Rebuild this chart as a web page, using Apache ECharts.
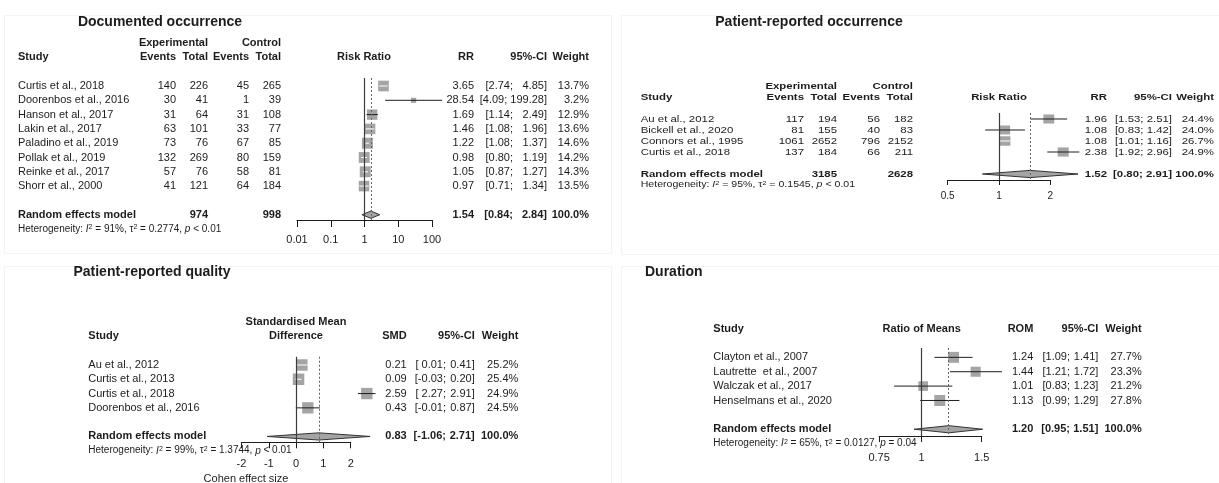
<!DOCTYPE html>
<html>
<head>
<meta charset="utf-8">
<script src="https://cdn.jsdelivr.net/npm/echarts@6/dist/echarts.min.js"></script>
<style>
  html, body { margin: 0; padding: 0; background: #fff; }
  #chart { width: 1219px; height: 483px; }
</style>
</head>
<body>
<div id="chart"></div>
<script>
const FONT = '"Liberation Sans", Arial, Helvetica, sans-serif';
const INK = '#1c1c1c';
const BOX = '#a4a4a4';

// Documented occurrence (risk ratio)
const docStudies = ['Curtis et al., 2018', 'Doorenbos et al., 2016', 'Hanson et al., 2017', 'Lakin et al., 2017',
  'Paladino et al., 2019', 'Pollak et al., 2019', 'Reinke et al., 2017', 'Shorr et al., 2000'];
const docExpEvents = [140, 30, 31, 63, 73, 132, 57, 41];
const docExpTotal = [226, 41, 64, 101, 76, 269, 76, 121];
const docCtrlEvents = [45, 1, 31, 33, 67, 80, 58, 64];
const docCtrlTotal = [265, 39, 108, 77, 85, 159, 81, 184];
const docRR = [3.65, 28.54, 1.69, 1.46, 1.22, 0.98, 1.05, 0.97];
const docLower = [2.74, 4.09, 1.14, 1.08, 1.08, 0.80, 0.87, 0.71];
const docUpper = [4.85, 199.28, 2.49, 1.96, 1.37, 1.19, 1.27, 1.34];
const docWeight = [13.7, 3.2, 12.9, 13.6, 14.6, 14.2, 14.3, 13.5];
const docPooled = [1.54, 0.84, 2.84];
const docTotals = [974, 998];
const docHet = ['91%', '0.2774', '< 0.01'];
const docTicks = [0.01, 0.1, 1, 10, 100];

// Patient-reported occurrence (risk ratio)
const patStudies = ['Au et al., 2012', 'Bickell et al., 2020', 'Connors et al., 1995', 'Curtis et al., 2018'];
const patExpEvents = [117, 81, 1061, 137];
const patExpTotal = [194, 155, 2652, 184];
const patCtrlEvents = [56, 40, 796, 66];
const patCtrlTotal = [182, 83, 2152, 211];
const patRR = [1.96, 1.08, 1.08, 2.38];
const patLower = [1.53, 0.83, 1.01, 1.92];
const patUpper = [2.51, 1.42, 1.16, 2.96];
const patWeight = [24.4, 24.0, 26.7, 24.9];
const patPooled = [1.52, 0.80, 2.91];
const patTotals = [3185, 2628];
const patHet = ['95%', '0.1545', '< 0.01'];
const patTicks = [0.5, 1, 2];

// Patient-reported quality (standardised mean difference)
const qualStudies = ['Au et al., 2012', 'Curtis et al., 2013', 'Curtis et al., 2018', 'Doorenbos et al., 2016'];
const qualSMD = [0.21, 0.09, 2.59, 0.43];
const qualLower = [0.01, -0.03, 2.27, -0.01];
const qualUpper = [0.41, 0.20, 2.91, 0.87];
const qualWeight = [25.2, 25.4, 24.9, 24.5];
const qualPooled = [0.83, -1.06, 2.71];
const qualHet = ['99%', '1.3744', '< 0.01'];
const qualTicks = [-2, -1, 0, 1, 2];

// Duration (ratio of means)
const durStudies = ['Clayton et al., 2007', 'Lautrette  et al., 2007', 'Walczak et al., 2017', 'Henselmans et al., 2020'];
const durROM = [1.24, 1.44, 1.01, 1.13];
const durLower = [1.09, 1.21, 0.83, 0.99];
const durUpper = [1.41, 1.72, 1.23, 1.29];
const durWeight = [27.7, 23.3, 21.2, 27.8];
const durPooled = [1.20, 0.95, 1.51];
const durHet = ['65%', '0.0127', '= 0.04'];
const durTicks = [0.75, 1, 1.5];

const panels = [
  {
    title: { text: 'Documented occurrence', x: 160, y: 22, align: 'center' },
    studies: docStudies, est: docRR, lower: docLower, upper: docUpper, weight: docWeight,
    pooled: docPooled, het: docHet, ticks: docTicks, nullValue: 1,
    events: [docExpEvents, docExpTotal, docCtrlEvents, docCtrlTotal], totals: docTotals,
    effectHead: ['Risk Ratio'], estHead: 'RR',
    grid: { left: 297, top: 78, width: 135, height: 142 },
    x: { type: 'log', logBase: 10, min: 0.01, max: 100 },
    y: { min: -0.56, max: 9.37 },
    tickLen: 7, labelMargin: 14, axisFs: 11, fs: 11, hetFs: 10, sx: 1, box: 11, boxW: 1,
    cols: { study: 18, expEv: 176, expTot: 208, ctlEv: 249, ctlTot: 281, plot: 364, est: 474, lo: 513, hi: 547, wt: 589 }
  },
  {
    title: { text: 'Patient-reported occurrence', x: 809, y: 22, align: 'center' },
    studies: patStudies, est: patRR, lower: patLower, upper: patUpper, weight: patWeight,
    pooled: patPooled, het: patHet, ticks: patTicks, nullValue: 1,
    events: [patExpEvents, patExpTotal, patCtrlEvents, patCtrlTotal], totals: patTotals,
    effectHead: ['Risk Ratio'], estHead: 'RR',
    grid: { left: 947.7, top: 113, width: 102.6, height: 67 },
    x: { type: 'log', logBase: 2, min: 0.5, max: 2 },
    y: { min: -0.545, max: 5.545 },
    tickLen: 5, labelMargin: 11, axisFs: 10, fs: 9.5, hetFs: 8.8, sx: 1.2, box: 9.5, boxW: 1.2,
    cols: { study: 640.7, expEv: 804, expTot: 837, ctlEv: 880, ctlTot: 913, plot: 999, est: 1107, lo: 1145.5, hi: 1172, wt: 1214 }
  },
  {
    title: { text: 'Patient-reported quality', x: 152, y: 272, align: 'center' },
    studies: qualStudies, est: qualSMD, lower: qualLower, upper: qualUpper, weight: qualWeight,
    pooled: qualPooled, het: qualHet, ticks: qualTicks, nullValue: 0, padSign: true,
    effectHead: ['Standardised Mean', 'Difference'], estHead: 'SMD',
    grid: { left: 241.5, top: 356.7, width: 109.2, height: 85.6 },
    x: { type: 'value', min: -2, max: 2, interval: 1 },
    y: { min: -0.58, max: 5.41 },
    tickLen: 6, labelMargin: 16, axisFs: 11, fs: 11, hetFs: 10, sx: 1, box: 11.5, boxW: 1,
    cols: { study: 88.3, plot: 296, est: 406.7, lo: 446, hi: 474.7, wt: 518.3 }
  },
  {
    title: { text: 'Duration', x: 645, y: 272, align: 'left' },
    studies: durStudies, est: durROM, lower: durLower, upper: durUpper, weight: durWeight,
    pooled: durPooled, het: durHet, ticks: durTicks, nullValue: 1,
    effectHead: ['Ratio of Means'], estHead: 'ROM',
    grid: { left: 879.1, top: 348, width: 102.6, height: 88 },
    x: { type: 'log', logBase: 10, min: 0.75, max: 1.5 },
    y: { min: -0.65, max: 5.47 },
    tickLen: 6, labelMargin: 16, axisFs: 11, fs: 11, hetFs: 10, sx: 1, box: 11, boxW: 1,
    cols: { study: 713.3, plot: 921.7, est: 1033.3, lo: 1070, hi: 1098.3, wt: 1141.7 }
  }
];

// square + confidence interval for each study; the line turns white when it fits inside the box
function studyRenderer(p) {
  const wmax = Math.max(...p.weight);
  return (params, api) => {
    const row = api.value(3);
    const c = api.coord([api.value(0), row]);
    const l = api.coord([api.value(1), row]);
    const h = api.coord([api.value(2), row]);
    const s = p.box * Math.sqrt(api.value(4) / wmax);
    const w = s * p.boxW;
    const inside = l[0] >= c[0] - w / 2 && h[0] <= c[0] + w / 2;
    return {
      type: 'group',
      children: [
        { type: 'rect', shape: { x: c[0] - w / 2, y: c[1] - s / 2, width: w, height: s }, style: { fill: BOX } },
        { type: 'line', shape: { x1: l[0], y1: c[1], x2: h[0], y2: c[1] },
          style: { stroke: inside ? '#ffffff' : INK, lineWidth: 1 } }
      ]
    };
  };
}

function pooledRenderer(params, api) {
  const row = api.value(3);
  const c = api.coord([api.value(0), row]);
  const l = api.coord([api.value(1), row]);
  const h = api.coord([api.value(2), row]);
  const hh = 3.6;
  return {
    type: 'polygon',
    shape: { points: [[l[0], c[1]], [c[0], c[1] - hh], [h[0], c[1]], [c[0], c[1] + hh]] },
    style: { fill: BOX, stroke: '#333', lineWidth: 1 }
  };
}

const chart = echarts.init(document.getElementById('chart'));

const series = [];
panels.forEach((p, k) => {
  const n = p.studies.length;
  series.push({
    type: 'line', xAxisIndex: k, yAxisIndex: k, data: [], silent: true, z: 1,
    markLine: {
      symbol: 'none', silent: true, label: { show: false },
      data: [
        { xAxis: p.nullValue, lineStyle: { color: '#3c3c3c', width: 1.2, type: 'solid' } },
        { xAxis: p.pooled[0], lineStyle: { color: '#666', width: 1, type: [2, 2] } }
      ]
    }
  });
  series.push({
    type: 'custom', xAxisIndex: k, yAxisIndex: k, z: 3, silent: true,
    encode: { x: [0, 1, 2], y: 3 },
    renderItem: studyRenderer(p),
    data: p.est.map((e, i) => [e, p.lower[i], p.upper[i], i, p.weight[i]])
  });
  series.push({
    type: 'custom', xAxisIndex: k, yAxisIndex: k, z: 3, silent: true,
    encode: { x: [0, 1, 2], y: 3 },
    renderItem: pooledRenderer,
    data: [[p.pooled[0], p.pooled[1], p.pooled[2], n + 1]]
  });
});

chart.setOption({
  animation: false,
  backgroundColor: '#ffffff',
  grid: panels.map(p => Object.assign({ outerBoundsMode: 'none', containLabel: false }, p.grid)),
  xAxis: panels.map((p, k) => Object.assign({ gridIndex: k }, p.x, {
    axisLine: { show: true, onZero: false, lineStyle: { color: INK, width: 1 } },
    axisTick: { show: true, length: p.tickLen, customValues: p.ticks, lineStyle: { color: INK, width: 1 } },
    axisLabel: { customValues: p.ticks, margin: p.labelMargin, fontSize: p.axisFs, color: INK, fontFamily: FONT,
      showMinLabel: true, showMaxLabel: true },
    splitLine: { show: false },
    minorTick: { show: false }
  })),
  yAxis: panels.map((p, k) => ({ gridIndex: k, type: 'value', min: p.y.min, max: p.y.max, inverse: true, show: false })),
  series
});

// text measuring, so the lower CI bound never runs into a wide upper bound
const measureCtx = document.createElement('canvas').getContext('2d');
function textWidth(s, size, bold) {
  measureCtx.font = (bold ? 'bold ' : '') + size + 'px ' + FONT;
  return measureCtx.measureText(s).width;
}

function label(x, y, text, o = {}) {
  return {
    type: 'text', x, y, scaleX: o.sx || 1, silent: true, z: 10,
    style: {
      text, x: 0, y: 0, fill: INK, fontFamily: FONT, fontSize: o.size || 11,
      fontWeight: o.bold ? 'bold' : 'normal',
      align: o.align || 'left', verticalAlign: 'middle',
      rich: o.rich
    }
  };
}

function hetRich(size) {
  return {
    it: { fontFamily: FONT, fontSize: size, fontStyle: 'italic', fill: INK },
    sup: { fontFamily: FONT, fontSize: Math.round(size * 0.7), verticalAlign: 'top', fill: INK }
  };
}
const hetText = h => `Heterogeneity: {it|I}{sup|2} = ${h[0]}, τ{sup|2} = ${h[1]}, {it|p} ${h[2]}`;

function buildText(k, p) {
  const ry = r => chart.convertToPixel({ yAxisIndex: k }, r);
  const n = p.studies.length;
  const c = p.cols;
  const out = [];
  const put = (x, r, s, o = {}) => out.push(label(x, ry(r), String(s), Object.assign({ size: p.fs, sx: p.sx }, o)));
  const R = { align: 'right' };
  const B = { bold: true };
  const BR = { bold: true, align: 'right' };
  const num = v => (p.padSign && v >= 0 ? ' ' : '') + v.toFixed(2);
  const ci = (r, lo, hi, bold) => {
    const upper = hi.toFixed(2) + ']';
    const gap = (textWidth(upper, p.fs, bold) + textWidth(' ', p.fs, bold)) * p.sx;
    const loX = Math.min(c.lo, c.hi - gap);
    put(loX, r, '[' + num(lo) + ';', { align: 'right', bold });
    put(c.hi, r, upper, { align: 'right', bold });
  };

  // header
  put(c.study, -2, 'Study', B);
  if (p.events) {
    put(c.expTot, -3, 'Experimental', BR);
    put(c.ctlTot, -3, 'Control', BR);
    [c.expEv, c.expTot, c.ctlEv, c.ctlTot].forEach((x, j) => put(x, -2, j % 2 ? 'Total' : 'Events', BR));
  }
  p.effectHead.forEach((h, j) => put(c.plot, -1 - p.effectHead.length + j, h, { bold: true, align: 'center' }));
  put(c.est, -2, p.estHead, BR);
  put(c.hi, -2, '95%-CI', BR);
  put(c.wt, -2, 'Weight', BR);

  // study rows
  p.studies.forEach((s, i) => {
    put(c.study, i, s);
    if (p.events) {
      [c.expEv, c.expTot, c.ctlEv, c.ctlTot].forEach((x, j) => put(x, i, p.events[j][i], R));
    }
    put(c.est, i, p.est[i].toFixed(2), R);
    ci(i, p.lower[i], p.upper[i], false);
    put(c.wt, i, p.weight[i].toFixed(1) + '%', R);
  });

  // pooled row
  const r = n + 1;
  put(c.study, r, 'Random effects model', B);
  if (p.totals) {
    put(c.expTot, r, p.totals[0], BR);
    put(c.ctlTot, r, p.totals[1], BR);
  }
  put(c.est, r, p.pooled[0].toFixed(2), BR);
  ci(r, p.pooled[1], p.pooled[2], true);
  put(c.wt, r, '100.0%', BR);

  out.push(label(c.study, ry(n + 2), hetText(p.het), { size: p.hetFs, sx: p.sx, rich: hetRich(p.hetFs) }));
  out.push(label(p.title.x, p.title.y, p.title.text, { size: 14, bold: true, align: p.title.align }));
  return out;
}

const frame = (x, y, w, h) => ({
  type: 'rect', silent: true, z: 0,
  shape: { x, y, width: w, height: h },
  style: { fill: 'none', stroke: '#f3f3f3', lineWidth: 1 }
});

const graphic = [
  frame(4.5, 15.5, 607, 238),
  frame(621.5, 15.5, 600, 239),
  frame(4.5, 266.5, 607, 220),
  frame(621.5, 266.5, 600, 220),
  label(246, 479, 'Cohen effect size', { size: 11, align: 'center' })
];
panels.forEach((p, k) => graphic.push(...buildText(k, p)));

chart.setOption({ graphic });
</script>
</body>
</html>
